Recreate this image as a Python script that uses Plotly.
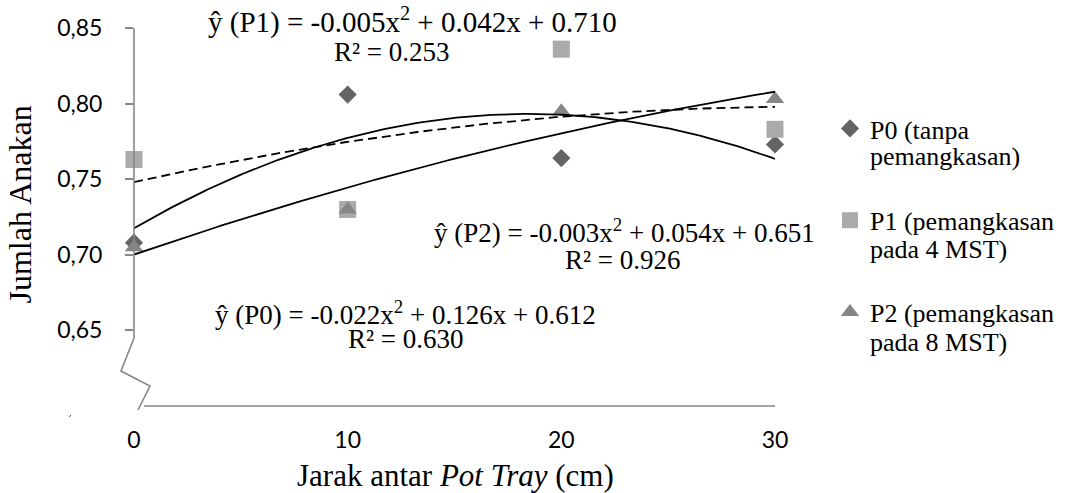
import numpy as np
import plotly.graph_objects as go

# ---- data ----
x_vals = [0, 10, 20, 30]
x_index = [1, 2, 3, 4]          # index used by the regression equations
p0 = [0.708, 0.806, 0.764, 0.773]
p1 = [0.763, 0.730, 0.836, 0.783]
p2 = [0.705, 0.730, 0.795, 0.803]
legend_line1 = ["P0 (tanpa", "P1 (pemangkasan", "P2 (pemangkasan"]
legend_line2 = ["pemangkasan)", "pada 4 MST)", "pada 8 MST)"]
y_tickvals = [0.65, 0.70, 0.75, 0.80, 0.85]
y_ticktext = ["0,65", "0,70", "0,75", "0,80", "0,85"]
x_ticktext = ["0", "10", "20", "30"]
eq_line1 = ["ŷ (P0) = -0.022x<sup>2</sup> + 0.126x + 0.612",
            "ŷ (P1) = -0.005x<sup>2</sup> + 0.042x + 0.710",
            "ŷ (P2) = -0.003x<sup>2</sup> + 0.054x + 0.651"]
eq_line2 = ["R² = 0.630", "R² = 0.253", "R² = 0.926"]

# ---- geometry helpers (pixel -> paper) ----
W, H = 1065, 493
L, R, T, B = 134, 290, 28, 87
PW, PH = W - L - R, H - T - B


def px(x):
    return (x - L) / PW


def py(y):
    return (H - B - y) / PH


fig = go.Figure()

colors = ["#646464", "#aaaaaa", "#868686"]
symbols = ["diamond", "square", "triangle-up"]
sizes = [14, 17, 16]
for i, (ys, name) in enumerate(zip([p0, p1, p2], legend_line1)):
    fig.add_trace(go.Scatter(
        x=x_vals, y=ys, mode="markers", name=name,
        legendgroup=f"g{i}",
        marker=dict(symbol=symbols[i], color=colors[i], size=sizes[i], line=dict(width=0)),
        cliponaxis=False,
    ))

# polynomial trendlines (fitted to the data on the 1..4 index, as in the equations)
dense_idx = np.linspace(1, 4, 200)
dashes = ["solid", "9px,5px", "solid"]
for i, ys in enumerate([p0, p1, p2]):
    coef = np.polyfit(x_index, ys, 2)
    fig.add_trace(go.Scatter(
        x=(dense_idx - 1) * 10, y=np.polyval(coef, dense_idx), mode="lines",
        line=dict(color="black", width=1.8, dash=dashes[i]),
        showlegend=False, hoverinfo="skip", cliponaxis=False,
    ))

axis_col = "#868686"
# broken y-axis line + x-axis line
path = (f"M {px(134)},{py(28)} L {px(134)},{py(338)} L {px(121)},{py(371)} "
        f"L {px(150)},{py(386)} L {px(138)},{py(410)}")
fig.add_shape(type="path", path=path, xref="paper", yref="paper",
              line=dict(color=axis_col, width=1.6))
fig.add_shape(type="line", xref="paper", yref="paper",
              x0=px(144), x1=px(775), y0=py(406), y1=py(406),
              line=dict(color=axis_col, width=1.6))
fig.add_shape(type="line", xref="paper", yref="paper",
              x0=px(69), x1=px(71), y0=py(417), y1=py(415),
              line=dict(color="#555555", width=1))

serif = "Liberation Serif"
eq_pos1 = [(405.5, 313), (412, 20), (624.5, 231)]
eq_pos2 = [(406, 339), (392, 52), (622.5, 260)]
eq_size1 = [27, 29, 27]
for i in range(3):
    fig.add_annotation(text=eq_line1[i], x=px(eq_pos1[i][0]), y=py(eq_pos1[i][1]),
                       xref="paper", yref="paper", showarrow=False,
                       xanchor="center", yanchor="middle",
                       font=dict(family=serif, size=eq_size1[i], color="black"))
    fig.add_annotation(text=eq_line2[i], x=px(eq_pos2[i][0]), y=py(eq_pos2[i][1]),
                       xref="paper", yref="paper", showarrow=False,
                       xanchor="center", yanchor="middle",
                       font=dict(family=serif, size=27, color="black"))

# second lines of the legend entries
leg2_y = [156, 249, 342]
for i in range(3):
    fig.add_annotation(text=legend_line2[i], x=px(868), y=py(leg2_y[i]),
                       xref="paper", yref="paper", showarrow=False,
                       xanchor="left", yanchor="middle",
                       font=dict(family=serif, size=26, color="black"))

# axis titles
fig.add_annotation(text="Jumlah Anakan", x=px(19), y=py(204.5), xref="paper", yref="paper",
                   showarrow=False, textangle=-90, xanchor="center", yanchor="middle",
                   font=dict(family=serif, size=32, color="black"))
fig.add_annotation(text="Jarak antar <i>Pot Tray</i> (cm)", x=px(455), y=py(475),
                   xref="paper", yref="paper", showarrow=False,
                   xanchor="center", yanchor="middle",
                   font=dict(family=serif, size=31, color="black"))

fig.update_layout(
    width=W, height=H,
    margin=dict(l=L, r=R, t=T, b=B, autoexpand=False),
    paper_bgcolor="white", plot_bgcolor="white",
    showlegend=True,
    legend=dict(x=px(830), y=py(105), xanchor="left", yanchor="top",
                font=dict(family=serif, size=26, color="black"),
                valign="middle", tracegroupgap=55, bgcolor="rgba(0,0,0,0)",
                itemwidth=30),
    xaxis=dict(range=[0, 30], tickvals=x_vals, ticktext=x_ticktext, ticks="",
               showline=False, showgrid=False, zeroline=False,
               tickfont=dict(family="Lato", size=23, color="black"),
               ticklabelstandoff=18),
    yaxis=dict(range=[0.60, 0.85], tickvals=y_tickvals, ticktext=y_ticktext,
               ticks="outside", ticklen=8, tickwidth=1.5, tickcolor=axis_col,
               showline=False, showgrid=False, zeroline=False,
               tickfont=dict(family="Lato", size=23, color="black"),
               ticklabelstandoff=18),
)

fig.write_html("out.html", config={"displayModeBar": False},
               post_script="document.body.style.margin='0';document.body.style.overflow='hidden';")
